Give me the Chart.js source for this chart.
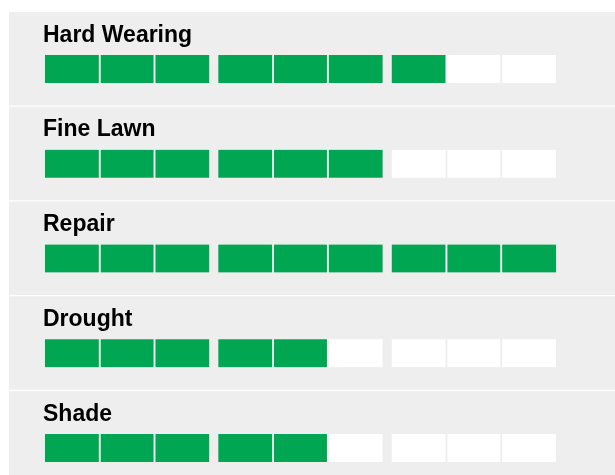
<!DOCTYPE html>
<html>
<head>
<meta charset="utf-8">
<script src="https://cdn.jsdelivr.net/npm/chart.js@4"></script>
<style>
  html, body { margin: 0; padding: 0; background: #fff; overflow: hidden; }
</style>
</head>
<body>
<canvas id="ratings_chart" width="615" height="512"></canvas>
<script>
// grass types and their rating, out of 9 blocks
var categories = ["Hard Wearing", "Fine Lawn", "Repair", "Drought", "Shade"];
var ratings = [7, 6, 9, 5, 5];
var maxRating = 9;
var blocksPerGroup = 3;

var green = "#00a651";
var panelGray = "#eeeeee";

// block layout in x units (1 = one block slot)
var groupGap = 0.165;
var lead = 0.036;
var seam = 1.25; // px of divider on each side of a block inside a group

function blockStart(i) {
  return i + groupGap * Math.floor(i / blocksPerGroup);
}
var xMax = blockStart(maxRating - 1) + 1;

var datasets = [];
for (var b = 0; b < maxRating; b++) {
  (function (b) {
    var firstInGroup = b % blocksPerGroup === 0;
    var lastInGroup = b % blocksPerGroup === blocksPerGroup - 1;
    datasets.push({
      label: "block " + (b + 1),
      data: categories.map(function () { return [blockStart(b), blockStart(b) + 1]; }),
      backgroundColor: ratings.map(function (r) { return b < r ? green : "#ffffff"; }),
      borderColor: ratings.map(function (r) { return b < r ? "#ffffff" : panelGray; }),
      borderSkipped: false,
      borderWidth: {
        left: firstInGroup ? 0 : seam,
        right: lastInGroup ? 0 : seam,
        top: 0,
        bottom: 0
      }
    });
  })(b);
}

// grey panel behind each row
var panelPlugin = {
  id: "panels",
  beforeDraw: function (chart) {
    var ctx = chart.ctx;
    var y = chart.scales.y;
    var pitch = y.getPixelForValue(1) - y.getPixelForValue(0);
    ctx.save();
    ctx.fillStyle = panelGray;
    categories.forEach(function (c, i) {
      var top = y.getPixelForValue(i) - pitch / 2 - 9.6;
      ctx.fillRect(9, top, chart.width - 9, pitch - 1.2);
    });
    ctx.restore();
  }
};

var ctx = document.getElementById("ratings_chart").getContext("2d");
var ratingsChart = new Chart(ctx, {
  type: "bar",
  data: {
    labels: categories,
    datasets: datasets
  },
  options: {
    indexAxis: "y",
    responsive: false,
    animation: false,
    layout: {
      padding: { left: 43, right: 59, top: 21.625, bottom: 16.625 }
    },
    datasets: {
      bar: { barThickness: 28, grouped: false }
    },
    scales: {
      x: {
        type: "linear",
        display: false,
        min: -lead,
        max: xMax
      },
      y: {
        type: "category",
        grid: { display: false, drawTicks: false },
        border: { display: false },
        ticks: {
          mirror: true,
          padding: 0,
          labelOffset: -33.6,
          color: "#000000",
          font: { family: "'Liberation Sans', Arial, sans-serif", size: 23, weight: "bold" }
        }
      }
    },
    plugins: {
      legend: { display: false },
      tooltip: { enabled: false }
    }
  },
  plugins: [panelPlugin]
});
</script>
</body>
</html>
